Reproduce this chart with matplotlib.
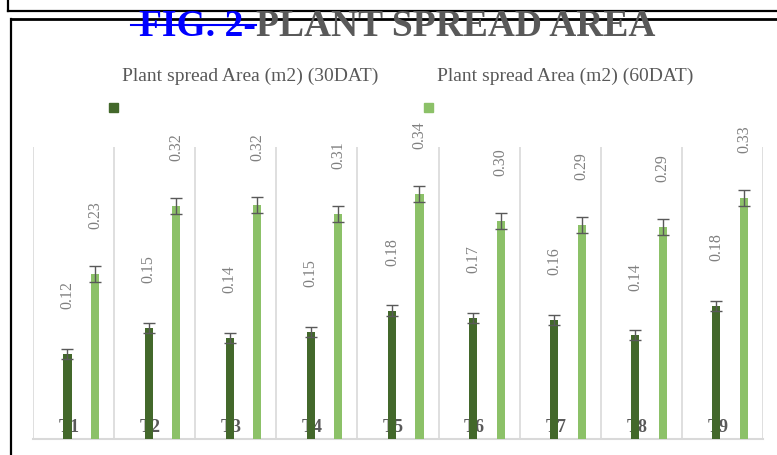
import matplotlib.pyplot as plt
from matplotlib.lines import Line2D
from matplotlib.patches import Rectangle
import numpy as np

# data
treatments = ["T1", "T2", "T3", "T4", "T5", "T6", "T7", "T8", "T9"]
spread_30 = [0.116, 0.152, 0.138, 0.147, 0.176, 0.166, 0.163, 0.142, 0.182]
spread_60 = [0.226, 0.319, 0.320, 0.308, 0.336, 0.299, 0.293, 0.290, 0.330]
err_30 = [0.007, 0.007, 0.007, 0.007, 0.008, 0.007, 0.007, 0.007, 0.007]
err_60 = [0.011, 0.011, 0.011, 0.011, 0.011, 0.011, 0.011, 0.011, 0.011]
series_names = ["Plant spread Area (m2) (30DAT)", "Plant spread Area (m2) (60DAT)"]

dark = "#43682b"
light = "#8cc168"
gray = "#595959"
W, H = 777, 456

plt.rcParams['font.family'] = ['Liberation Serif', 'DejaVu Serif']

fig = plt.figure(figsize=(W / 100, H / 100), dpi=100)
ax = fig.add_axes([33 / W, 1 - 440 / H, 730 / W, 292 / H])

x = np.arange(len(treatments))
bw = 0.1
off_30, off_60 = -0.075, 0.265

ax.bar(x + off_30, spread_30, bw, color=dark, zorder=3)
ax.bar(x + off_60, spread_60, bw, color=light, zorder=3)
ax.errorbar(x + off_30, spread_30, yerr=err_30, fmt='none', ecolor=gray,
            elinewidth=1.0, capsize=4, capthick=1.0, zorder=4)
ax.errorbar(x + off_60, spread_60, yerr=err_60, fmt='none', ecolor=gray,
            elinewidth=1.0, capsize=4, capthick=1.0, zorder=4)

# rotated value labels
for xi, v in zip(x + off_30, spread_30):
    ax.annotate(f"{v:.2f}", (xi, v), xytext=(0, 33), textcoords='offset points',
                rotation=90, ha='center', va='bottom', color="#808080", fontsize=11.5)
for xi, v in zip(x + off_60, spread_60):
    ax.annotate(f"{v:.2f}", (xi, v), xytext=(0, 33), textcoords='offset points',
                rotation=90, ha='center', va='bottom', color="#808080", fontsize=11.5)

# category labels sit inside the plot near the baseline
for xi, t in zip(x, treatments):
    ax.text(xi - 0.055, 0.017, t, ha='center', va='center', color=gray,
            fontsize=13, fontweight='bold', zorder=2)

ax.set_xlim(-0.5, len(treatments) - 0.5)
ax.set_ylim(0, 0.4)
ax.set_xticks(np.arange(len(treatments) + 1) - 0.5)
ax.set_xticklabels([])
ax.tick_params(length=0)
ax.set_yticks([])
ax.grid(axis='x', color="#d9d9d9", linewidth=1.2, zorder=0)
for s in ['top', 'left', 'right']:
    ax.spines[s].set_visible(False)
ax.spines['bottom'].set_color("#d9d9d9")
ax.spines['bottom'].set_linewidth(1.5)

# legend: names above, markers below
fig.text(250 / W, 1 - 76 / H, series_names[0], ha='center', va='center',
         color=gray, fontsize=14)
fig.text(565 / W, 1 - 76 / H, series_names[1], ha='center', va='center',
         color=gray, fontsize=14)
fig.add_artist(Rectangle((109 / W, 1 - 113 / H), 9 / W, 9 / H, color=dark,
                         transform=fig.transFigure))
fig.add_artist(Rectangle((424 / W, 1 - 113 / H), 9 / W, 9 / H, color=light,
                         transform=fig.transFigure))

# frame lines
def fline(xs, ys, lw=1.6):
    fig.add_artist(Line2D([v / W for v in xs], [1 - v / H for v in ys],
                          color='black', linewidth=lw, transform=fig.transFigure))

fline([8, 8], [0, 12])
fline([8, W], [12, 12])
fline([11, 11], [19.5, H])
fline([11, W], [19.5, 19.5], lw=2.0)

# title
fig.text(256 / W, 1 - 36 / H, "FIG. 2-", ha='right', va='baseline', color="#0000ff",
         fontsize=27, fontweight='bold')
fig.text(256 / W, 1 - 36 / H, "PLANT SPREAD AREA", ha='left', va='baseline', color=gray,
         fontsize=27, fontweight='bold')
fig.add_artist(Line2D([131 / W, 256 / W], [1 - 26 / H, 1 - 26 / H], color="#0000ff",
                      linewidth=1.5, transform=fig.transFigure))

fig.savefig("out.png", dpi=100)
